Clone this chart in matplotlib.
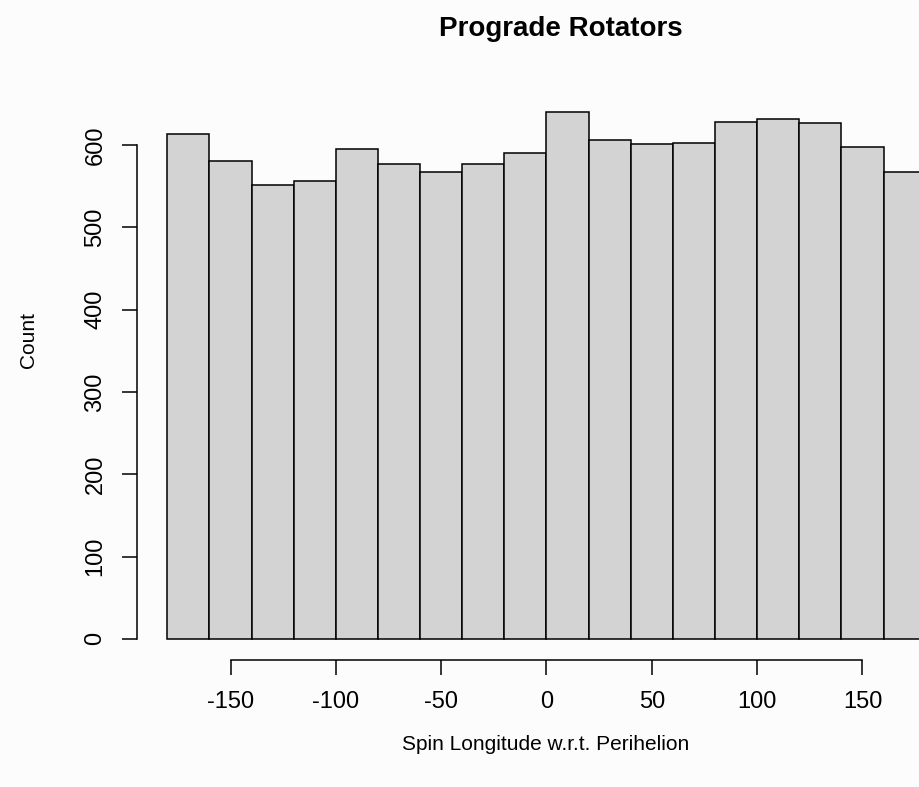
import numpy as np
import matplotlib.pyplot as plt

plt.rcParams['font.family'] = ['Liberation Sans', 'DejaVu Sans']

# histogram bins (degrees) and counts per bin
bin_edges = list(range(-180, 181, 20))
counts = [613, 581, 551, 556, 595, 577, 567, 577, 590, 640,
          606, 601, 603, 628, 631, 627, 597, 567]
x_ticks = [-150, -100, -50, 0, 50, 100, 150]
y_ticks = [0, 100, 200, 300, 400, 500, 600]

W, H = 920, 787
fig = plt.figure(figsize=(W / 100, H / 100), dpi=100, facecolor='#fcfcfc')

# plot region in pixels (runs past the right edge of the figure)
left, right, top, bottom = 137, 956, 91, 660
ax = fig.add_axes([left / W, (H - bottom) / H, (right - left) / W, (bottom - top) / H])
ax.set_facecolor('none')

edges = np.array(bin_edges)
ax.bar(edges[:-1], counts, width=np.diff(edges), align='edge',
       color='#d3d3d3', edgecolor='black', linewidth=1.1)

span = edges[-1] - edges[0]
ax.set_xlim(edges[0] - 0.04 * span, edges[-1] + 0.04 * span)
ymax = max(counts)
ax.set_ylim(-0.04 * ymax, ymax * 1.04)

for s in ['top', 'right']:
    ax.spines[s].set_visible(False)
ax.spines['left'].set_bounds(y_ticks[0], y_ticks[-1])
ax.spines['bottom'].set_bounds(x_ticks[0], x_ticks[-1])
for s in ['left', 'bottom']:
    ax.spines[s].set_linewidth(1.1)

ax.set_xticks(x_ticks)
ax.set_xticklabels([str(v) for v in x_ticks])
ax.set_yticks(y_ticks)
ax.set_yticklabels([str(v) for v in y_ticks], rotation=90, va='center')
ax.tick_params(direction='out', length=11, width=1.1, labelsize=17)
ax.tick_params(axis='x', pad=11.5)
ax.tick_params(axis='y', pad=11)

fig.text(561 / W, 1 - 29 / H, 'Prograde Rotators', ha='center', va='center',
         fontsize=20, fontweight='bold')
fig.text(546 / W, 1 - 745 / H, 'Spin Longitude w.r.t. Perihelion',
         ha='center', va='center', fontsize=15)
fig.text(29 / W, 1 - 340 / H, 'Count', ha='center', va='center',
         rotation=90, fontsize=15)

fig.savefig('out.png', dpi=100, facecolor=fig.get_facecolor())
